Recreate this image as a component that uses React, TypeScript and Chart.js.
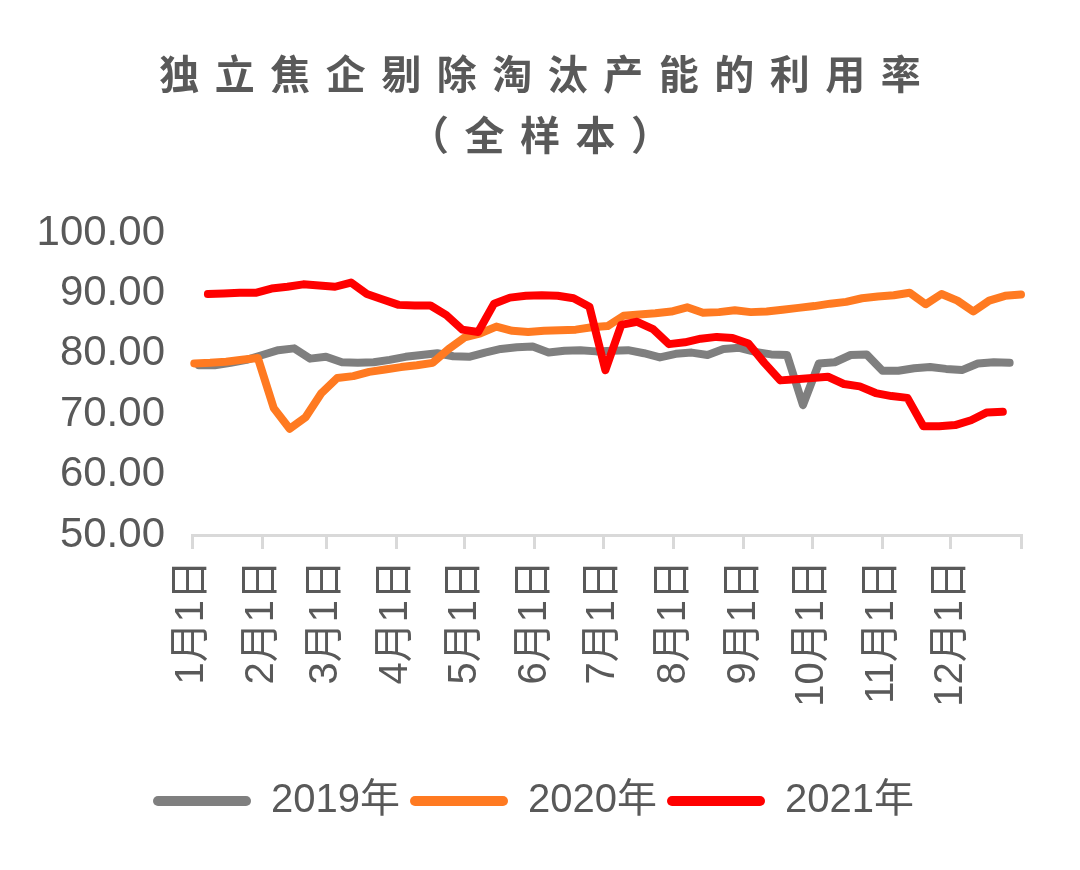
import React, { useEffect, useRef } from 'react';
import { Chart, registerables } from 'chart.js';

Chart.register(...registerables);

const TITLE_LINES = ['独立焦企剔除淘汰产能的利用率', '（全样本）'];
const SERIES_NAMES = ['2019年', '2020年', '2021年'];
const SERIES_COLORS = ['#7f7f7f', '#ff7a21', '#ff0000'];

// day-of-year where each month begins (last one closes the year)
const MONTH_START_DAYS = [0, 31, 59, 90, 120, 151, 181, 212, 243, 273, 304, 334, 365];
const MONTH_LABELS = ['1月1日', '2月1日', '3月1日', '4月1日', '5月1日', '6月1日', '7月1日', '8月1日', '9月1日', '10月1日', '11月1日', '12月1日', ''];
const Y_MIN = 50;
const Y_MAX = 100;
const Y_STEP = 10;

// weekly observations: first observation day-of-year, then one value per week
const START_DAY_2019 = 3;
const VALUES_2019 = [
  78.1, 78.1, 78.5, 79.0, 79.8, 80.6, 80.9, 79.2, 79.5, 78.6,
  78.5, 78.6, 79.0, 79.5, 79.8, 80.1, 79.6, 79.5, 80.2, 80.8,
  81.1, 81.2, 80.2, 80.5, 80.6, 80.4, 80.5, 80.6, 80.1, 79.4,
  80.0, 80.2, 79.8, 80.8, 81.0, 80.3, 79.9, 79.8, 71.5, 78.4,
  78.6, 79.8, 79.9, 77.2, 77.2, 77.6, 77.8, 77.5, 77.3, 78.4,
  78.6, 78.5,
];

const START_DAY_2020 = 1;
const VALUES_2020 = [
  78.4, 78.5, 78.7, 79.0, 79.3, 71.0, 67.6, 69.5, 73.5, 76.0,
  76.3, 77.0, 77.4, 77.8, 78.1, 78.5, 80.8, 82.7, 83.4, 84.5,
  83.8, 83.6, 83.8, 83.9, 84.0, 84.4, 84.6, 86.3, 86.5, 86.7,
  87.0, 87.7, 86.8, 86.9, 87.2, 86.9, 87.0, 87.3, 87.6, 87.9,
  88.3, 88.6, 89.2, 89.5, 89.7, 90.1, 88.2, 89.9, 88.8, 87.0,
  88.8, 89.6, 89.8,
];

const START_DAY_2021 = 7;
const VALUES_2021 = [
  89.9, 90.0, 90.1, 90.1, 90.8, 91.1, 91.5, 91.3, 91.1, 91.8,
  89.9, 89.0, 88.1, 88.0, 88.0, 86.4, 84.0, 83.6, 88.3, 89.3,
  89.6, 89.7, 89.6, 89.2, 87.8, 77.3, 84.8, 85.3, 84.1, 81.6,
  81.9, 82.5, 82.8, 82.6, 81.7, 78.5, 75.6, 75.8, 76.0, 76.2,
  75.0, 74.6, 73.5, 73.0, 72.7, 68.0, 68.0, 68.2, 69.0, 70.3,
  70.4,
];

const WEEK_DAYS = 7;

const toPoints = (start: number, values: number[]) =>
  values.map((v, i) => ({ x: start + i * WEEK_DAYS, y: v }));

const FONT_FAMILY = '"Liberation Sans", "Noto Sans CJK SC", sans-serif';
const TEXT_COLOR = '#595959';

export default function App() {
  const canvasRef = useRef<HTMLCanvasElement | null>(null);

  useEffect(() => {
    if (!canvasRef.current) return;
    const series = [
      toPoints(START_DAY_2019, VALUES_2019),
      toPoints(START_DAY_2020, VALUES_2020),
      toPoints(START_DAY_2021, VALUES_2021),
    ];
    const chart = new Chart(canvasRef.current, {
      type: 'line',
      data: {
        datasets: series.map((pts, i) => ({
          label: SERIES_NAMES[i],
          data: pts,
          borderColor: SERIES_COLORS[i],
          backgroundColor: SERIES_COLORS[i],
          borderWidth: 8,
          pointRadius: 0,
          pointHoverRadius: 0,
          tension: 0,
          borderJoinStyle: 'round',
          borderCapStyle: 'round',
          clip: false,
          order: 3 - i,
        })),
      },
      options: {
        animation: false,
        responsive: true,
        maintainAspectRatio: false,
        layout: { padding: { top: 233, left: 30, right: 43, bottom: 39 } },
        plugins: {
          title: { display: false },
          tooltip: { enabled: false },
          legend: {
            position: 'bottom',
            labels: {
              boxWidth: 98,
              boxHeight: 10,
              padding: 10,
              useBorderRadius: true,
              borderRadius: 5,
              color: TEXT_COLOR,
              font: { size: 40, family: FONT_FAMILY },
              generateLabels: (c: any) =>
                c.data.datasets.map((ds: any, i: number) => ({
                  text: ds.label,
                  fillStyle: ds.borderColor,
                  strokeStyle: ds.borderColor,
                  lineWidth: 0,
                  hidden: false,
                  datasetIndex: i,
                  fontColor: TEXT_COLOR,
                  borderRadius: 5,
                })),
            },
          },
        },
        scales: {
          x: {
            type: 'linear',
            min: MONTH_START_DAYS[0],
            max: MONTH_START_DAYS[MONTH_START_DAYS.length - 1],
            afterBuildTicks: (scale: any) => {
              scale.ticks = MONTH_START_DAYS.map((d) => ({ value: d }));
            },
            afterFit: (scale: any) => {
              scale.height = 236;
            },
            grid: {
              drawOnChartArea: false,
              drawTicks: true,
              tickLength: 14,
              color: '#d9d9d9',
              lineWidth: 3,
            },
            border: { display: true, color: '#d9d9d9', width: 3 },
            ticks: {
              autoSkip: false,
              minRotation: 90,
              maxRotation: 90,
              padding: 11,
              color: TEXT_COLOR,
              font: { size: 40, family: FONT_FAMILY },
              callback: (_v: any, idx: number) => MONTH_LABELS[idx],
            },
          },
          y: {
            min: Y_MIN,
            max: Y_MAX,
            afterFit: (scale: any) => {
              scale.width = 162;
            },
            grid: { display: false, drawTicks: false },
            border: { display: false },
            ticks: {
              stepSize: Y_STEP,
              padding: 27,
              color: TEXT_COLOR,
              font: { size: 42, family: FONT_FAMILY },
              callback: (v: any) => Number(v).toFixed(2),
            },
          },
        },
      },
    });
    return () => chart.destroy();
  }, []);

  return (
    <div style={{ position: 'absolute', left: 0, top: 0, width: 1080, height: 870, background: '#fff' }}>
      <div
        style={{
          position: 'absolute',
          left: 0,
          top: 42,
          width: 1080,
          textAlign: 'center',
          fontFamily: '"Noto Sans CJK SC", sans-serif',
          fontWeight: 700,
          fontSize: 40,
          lineHeight: '61px',
          letterSpacing: '15.5px',
          paddingLeft: 15.5,
          boxSizing: 'border-box',
          color: TEXT_COLOR,
        }}
      >
        {TITLE_LINES.map((t) => (
          <div key={t}>{t}</div>
        ))}
      </div>
      <canvas ref={canvasRef} style={{ width: 1080, height: 870 }} />
    </div>
  );
}
